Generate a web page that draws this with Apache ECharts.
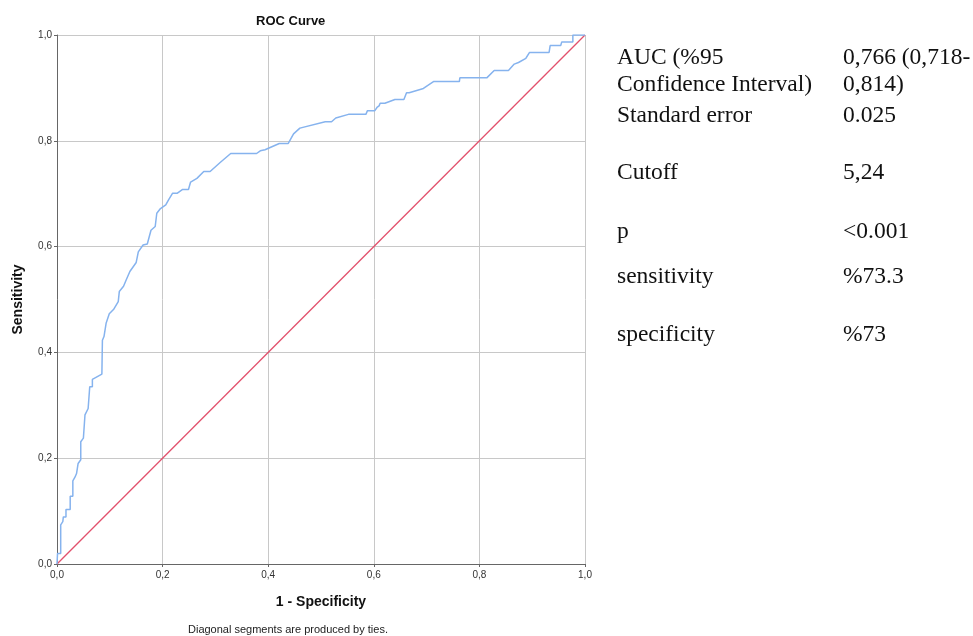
<!DOCTYPE html>
<html>
<head>
<meta charset="utf-8" />
<title>ROC Curve</title>
<script src="https://cdn.jsdelivr.net/npm/echarts@6/dist/echarts.min.js"></script>
<style>
    html, body { margin: 0; padding: 0; background: #fff; }
    #chart { width: 973px; height: 636px; }
</style>
</head>
<body>
<div id="chart"></div>
<script>
    // 1 - specificity (false positive rate) of the traced ROC curve
    var fpr = [0, 0.001, 0.007, 0.007, 0.011, 0.012, 0.017, 0.017, 0.025, 0.025,
        0.030, 0.030, 0.034, 0.037, 0.037, 0.040, 0.045, 0.045, 0.050, 0.053,
        0.056, 0.059, 0.062, 0.062, 0.067, 0.067, 0.085, 0.086, 0.089, 0.093,
        0.099, 0.107, 0.116, 0.118, 0.126, 0.131, 0.138, 0.150, 0.154, 0.163,
        0.171, 0.178, 0.186, 0.189, 0.196, 0.206, 0.211, 0.219, 0.228, 0.238,
        0.249, 0.253, 0.265, 0.278, 0.290, 0.309, 0.329, 0.378, 0.385, 0.394,
        0.421, 0.438, 0.448, 0.460, 0.508, 0.520, 0.528, 0.552, 0.585, 0.588,
        0.602, 0.606, 0.610, 0.612, 0.621, 0.640, 0.657, 0.662, 0.667, 0.694,
        0.701, 0.713, 0.762, 0.763, 0.814, 0.828, 0.855, 0.866, 0.874, 0.888,
        0.895, 0.932, 0.934, 0.954, 0.956, 0.977, 0.977, 1];
    // sensitivity (true positive rate)
    var tpr = [0, 0.020, 0.020, 0.074, 0.080, 0.089, 0.089, 0.103, 0.103, 0.128,
        0.128, 0.157, 0.164, 0.164, 0.171, 0.190, 0.197, 0.231, 0.238, 0.282,
        0.285, 0.294, 0.297, 0.335, 0.335, 0.349, 0.359, 0.423, 0.430, 0.455,
        0.473, 0.481, 0.496, 0.515, 0.525, 0.537, 0.553, 0.570, 0.590, 0.603,
        0.605, 0.631, 0.638, 0.663, 0.672, 0.679, 0.688, 0.701, 0.701, 0.708,
        0.708, 0.722, 0.729, 0.742, 0.742, 0.759, 0.776, 0.776, 0.781, 0.783,
        0.795, 0.795, 0.813, 0.824, 0.836, 0.836, 0.843, 0.850, 0.850, 0.857,
        0.857, 0.863, 0.866, 0.871, 0.871, 0.878, 0.878, 0.891, 0.891, 0.899,
        0.904, 0.912, 0.912, 0.919, 0.919, 0.933, 0.933, 0.945, 0.948, 0.956,
        0.967, 0.967, 0.980, 0.980, 0.987, 0.987, 1.0, 1];
    // reference line
    var refX = [0, 1];
    var refY = [0, 1];

    // stats table on the right
    var statLabels = ['AUC (%95', 'Confidence Interval)', 'Standard error', 'Cutoff', 'p', 'sensitivity', 'specificity'];
    var statValues = ['0,766 (0,718-', '0,814)', '0.025', '5,24', '<0.001', '%73.3', '%73'];
    var statRowY = [58, 85, 116, 173, 232, 277, 335];

    function commaFmt(v) {
        return v.toFixed(1).replace('.', ',');
    }

    function zip(a, b) {
        var out = [];
        for (var i = 0; i < a.length; i++) out.push([a[i], b[i]]);
        return out;
    }

    var tableTexts = [];
    for (var i = 0; i < statLabels.length; i++) {
        tableTexts.push({
            type: 'text', left: 617, top: statRowY[i] - 12,
            style: { text: statLabels[i], font: '23.5px "Liberation Serif"', fill: '#111' }
        });
        tableTexts.push({
            type: 'text', left: 843, top: statRowY[i] - 12,
            style: { text: statValues[i], font: '23.5px "Liberation Serif"', fill: '#111' }
        });
    }

    var chart = echarts.init(document.getElementById('chart'));
    chart.setOption({
        animation: false,
        backgroundColor: '#fff',
        grid: {
            left: 57, top: 35, right: 388, bottom: 72,
            containLabel: false,
            outerBoundsMode: 'none'
        },
        xAxis: {
            type: 'value', min: 0, max: 1, interval: 0.2,
            name: '1 - Specificity',
            nameLocation: 'middle',
            nameGap: 31,
            nameTextStyle: { fontFamily: 'Liberation Sans', fontSize: 14, fontWeight: 'bold', color: '#111' },
            axisLine: { show: true, lineStyle: { color: '#666', width: 1 } },
            axisTick: { show: true, length: 3, lineStyle: { color: '#666' } },
            axisLabel: { formatter: commaFmt, fontFamily: 'Liberation Sans', fontSize: 10, color: '#333', margin: 6 },
            splitLine: { show: true, lineStyle: { color: '#c8c8c8', width: 1 } }
        },
        yAxis: {
            type: 'value', min: 0, max: 1, interval: 0.2,
            name: 'Sensitivity',
            nameLocation: 'middle',
            nameGap: 32,
            nameRotate: 90,
            nameTextStyle: { fontFamily: 'Liberation Sans', fontSize: 14, fontWeight: 'bold', color: '#111' },
            axisLine: { show: true, lineStyle: { color: '#666', width: 1 } },
            axisTick: { show: true, length: 3, lineStyle: { color: '#666' } },
            axisLabel: { formatter: commaFmt, fontFamily: 'Liberation Sans', fontSize: 10, color: '#333', margin: 5 },
            splitLine: { show: true, lineStyle: { color: '#c8c8c8', width: 1 } }
        },
        graphic: [
            {
                type: 'text', left: 256, top: 15,
                style: { text: 'ROC Curve', font: 'bold 13px "Liberation Sans"', fill: '#111' }
            },
            {
                type: 'text', left: 188, top: 624,
                style: { text: 'Diagonal segments are produced by ties.', font: '11px "Liberation Sans"', fill: '#222' }
            }
        ].concat(tableTexts),
        series: [
            {
                type: 'line',
                data: zip(refX, refY),
                showSymbol: false,
                lineStyle: { color: '#e2506c', width: 1.3 },
                z: 2
            },
            {
                type: 'line',
                data: zip(fpr, tpr),
                showSymbol: false,
                lineStyle: { color: '#86b3ee', width: 1.5 },
                z: 3
            }
        ]
    });
</script>
</body>
</html>
